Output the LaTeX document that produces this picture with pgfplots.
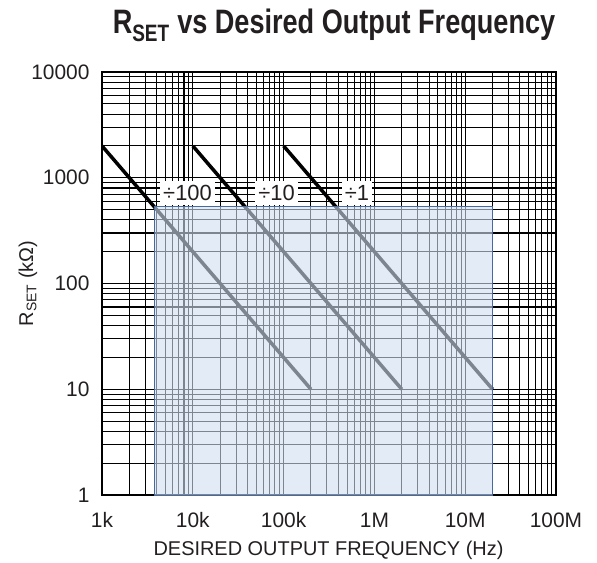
\documentclass[border=0pt]{standalone}
\usepackage{pgfplots}
\pgfplotsset{compat=1.18}
\usepackage{fontspec}
\setmainfont{Liberation Sans}
\newfontfamily\titlefont{Liberation Sans}[FakeStretch=0.8]
\definecolor{txt}{HTML}{231F20}
\definecolor{shadefill}{RGB}{208,222,240}
\definecolor{shadeborder}{RGB}{70,105,160}
\begin{document}
\begin{tikzpicture}[x=1bp,y=1bp]
\begin{axis}[
  at={(0,0)}, anchor=south west, scale only axis,
  width=454bp, height=423bp,
  xmode=log, ymode=log,
  xmin=1e3, xmax=1e8, ymin=1, ymax=1e4,
  xtick={1e3,1e4,1e5,1e6,1e7,1e8},
  xticklabels={1k,10k,100k,1M,10M,100M},
  ytick={1,10,100,1000,10000},
  yticklabels={1,10,100,1000,10000},
  minor xtick={2e3,3e3,4e3,5e3,6e3,7e3,8e3,9e3,2e4,3e4,4e4,5e4,6e4,7e4,8e4,9e4,2e5,3e5,4e5,5e5,6e5,7e5,8e5,9e5,2e6,3e6,4e6,5e6,6e6,7e6,8e6,9e6,2e7,3e7,4e7,5e7,6e7,7e7,8e7,9e7},
  minor ytick={2,3,4,5,6,7,8,9,20,30,40,50,60,70,80,90,200,300,400,500,600,700,800,900,2000,3000,4000,5000,6000,7000,8000,9000},
  grid=both,
  major grid style={black, line width=1.1bp},
  minor grid style={black, line width=1.1bp},
  axis line style={black, line width=1.2bp},
  major tick length=0pt, minor tick length=0pt,
  tick label style={font=\fontsize{21}{21}\selectfont, text=txt},
  xticklabel style={anchor=base, yshift=-32bp},
  yticklabel style={anchor=east, xshift=-9bp},
  title={\titlefont\bfseries R\textsubscript{SET} vs Desired Output Frequency},
  title style={at={(axis description cs:0.511,1.097)}, anchor=center, font=\fontsize{34}{34}\selectfont, text=txt},
  xlabel={DESIRED OUTPUT FREQUENCY (Hz)},
  xlabel style={at={(axis description cs:0.4989,-0.130)}, anchor=center, font=\fontsize{20}{20}\selectfont, text=txt},
  ylabel={R\textsubscript{SET} (kΩ)},
  ylabel style={at={(axis description cs:-0.163,0.5)}, anchor=center, rotate=0, font=\fontsize{20}{20}\selectfont, text=txt},
]
\addplot[black, line width=3.5bp] coordinates {(1e3,2000) (2e5,10)};
\addplot[black, line width=3.5bp] coordinates {(1e4,2000) (2e6,10)};
\addplot[black, line width=3.5bp] coordinates {(1e5,2000) (2e7,10)};
\addplot[draw=shadeborder, line width=1bp, fill=shadefill, fill opacity=0.6] coordinates {(3.8e3,1) (2e7,1) (2e7,530) (3.8e3,530)} -- cycle;
\node[fill=white, inner xsep=3bp, inner ysep=4bp, text=txt, font=\fontsize{22}{22}\selectfont] at (axis cs:8.75e3,717) {÷100};
\node[fill=white, inner xsep=3bp, inner ysep=4bp, text=txt, font=\fontsize{22}{22}\selectfont] at (axis cs:8.35e4,717) {÷10};
\node[fill=white, inner xsep=3bp, inner ysep=4bp, text=txt, font=\fontsize{22}{22}\selectfont] at (axis cs:6.43e5,717) {÷1};
\end{axis}
\pgfresetboundingbox
\path[use as bounding box] (-102,-68) rectangle (495,495);
\end{tikzpicture}
\end{document}
